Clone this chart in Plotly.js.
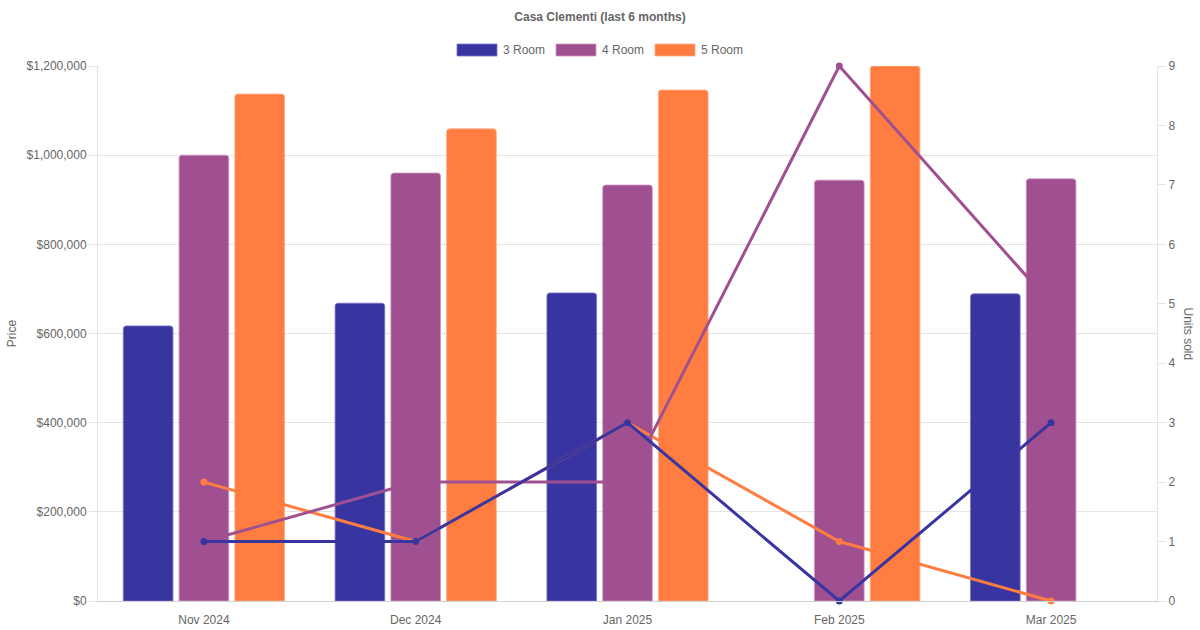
<!DOCTYPE html>
<html>
<head>
<meta charset="utf-8">
<script src="https://cdn.plot.ly/plotly-3.0.1.min.js"></script>
<style>
  html, body { margin: 0; padding: 0; background: #fff; }
  #chart { width: 1200px; height: 630px; }
</style>
</head>
<body>
<div id="chart"></div>
<script>
// data
var months = ['Nov 2024', 'Dec 2024', 'Jan 2025', 'Feb 2025', 'Mar 2025'];
var names = ['3 Room', '4 Room', '5 Room'];
var colors = ['#3935a0', '#a05091', '#ff7d41'];
var edges = ['rgba(120,115,200,0.8)', 'rgba(205,150,195,0.8)', 'rgba(255,170,130,0.8)'];

// median price per month (null = no sale)
var price3 = [617000, 668000, 691000, null, 689000];
var price4 = [1000000, 960000, 933000, 944000, 947000];
var price5 = [1137000, 1059000, 1146000, 1200000, null];

// units sold
var units3 = [1, 1, 3, 0, 3];
var units4 = [1, 2, 2, 9, 5];
var units5 = [2, 1, 3, 1, 0];

var prices = [price3, price4, price5];
var units = [units3, units4, units5];

var font = 'Liberation Sans, Helvetica, Arial, sans-serif';
var grey = '#666';
var grid = '#e4e4e4';

var traces = [];
// bars first, lines go over them
for (let i = 0; i < 3; i++) {
    traces.push({
        x: months,
        y: prices[i],
        type: 'bar',
        name: names[i],
        marker: {color: colors[i], line: {color: edges[i], width: 1}},
        yaxis: 'y',
        showlegend: false,
        hoverinfo: 'x+y+name'
    });
}
// reversed so the 3 Room line ends up on top
for (let i = 2; i >= 0; i--) {
    traces.push({
        x: months,
        y: units[i],
        type: 'scatter',
        mode: 'lines+markers',
        name: names[i],
        line: {color: colors[i], width: 3},
        marker: {color: colors[i], size: 7},
        yaxis: 'y2',
        showlegend: false,
        cliponaxis: false
    });
}

// plot box in pixels (from the reference)
var L = 98, R = 1157, T = 66, B = 601;
function px(x) { return (x - L) / (R - L); }
function py(y) { return (B - y) / (B - T); }

// hand made legend with wide swatches like the original
var shapes = [];
var annotations = [];
var legX = [457, 556, 655];
for (let i = 0; i < 3; i++) {
    shapes.push({
        type: 'rect', xref: 'paper', yref: 'paper',
        x0: px(legX[i]), x1: px(legX[i] + 40),
        y0: py(56), y1: py(44),
        fillcolor: colors[i], line: {color: edges[i], width: 1}
    });
    annotations.push({
        xref: 'paper', yref: 'paper',
        x: px(legX[i] + 44), y: py(50),
        xanchor: 'left', yanchor: 'middle',
        text: names[i], showarrow: false,
        font: {family: font, size: 12, color: grey}
    });
}
annotations.push({
    xref: 'paper', yref: 'paper',
    x: px(1188), y: 0.5,
    xanchor: 'center', yanchor: 'middle',
    text: 'Units sold', textangle: 90, showarrow: false,
    font: {family: font, size: 12, color: grey}
});

var layout = {
    width: 1200,
    height: 630,
    margin: {l: L, r: 1200 - R, t: T, b: 630 - B},
    paper_bgcolor: '#fff',
    plot_bgcolor: '#fff',
    font: {family: font, size: 12, color: grey},
    title: {
        text: '<b>Casa Clementi (last 6 months)</b>',
        font: {family: font, size: 12, color: grey},
        x: 0.5, xref: 'container', xanchor: 'center',
        y: 1 - 17 / 630, yref: 'container', yanchor: 'middle'
    },
    showlegend: false,
    barmode: 'group',
    bargap: 0.21,
    bargroupgap: 0.11,
    barcornerradius: 3,
    xaxis: {
        type: 'category',
        range: [-0.5, 4.5],
        showgrid: false,
        showline: true,
        linecolor: '#d0d0d0',
        linewidth: 1,
        ticks: '',
        ticklabelstandoff: 8,
        tickfont: {family: font, size: 12, color: grey},
        zeroline: false
    },
    yaxis: {
        range: [0, 1200000],
        dtick: 200000,
        tickprefix: '$',
        tickformat: ',d',
        showgrid: true,
        gridcolor: grid,
        zeroline: false,
        showline: true,
        linecolor: grid,
        ticks: 'outside',
        ticklen: 8,
        tickcolor: grid,
        tickfont: {family: font, size: 12, color: grey},
        title: {text: 'Price', font: {family: font, size: 12, color: grey}, standoff: 7}
    },
    yaxis2: {
        overlaying: 'y',
        side: 'right',
        range: [0, 9],
        dtick: 1,
        showgrid: false,
        zeroline: false,
        showline: true,
        linecolor: grid,
        ticks: 'outside',
        ticklen: 8,
        tickcolor: grid,
        tickfont: {family: font, size: 12, color: grey}
    },
    shapes: shapes,
    annotations: annotations
};

Plotly.newPlot('chart', traces, layout, {displayModeBar: false, staticPlot: true});
</script>
</body>
</html>
